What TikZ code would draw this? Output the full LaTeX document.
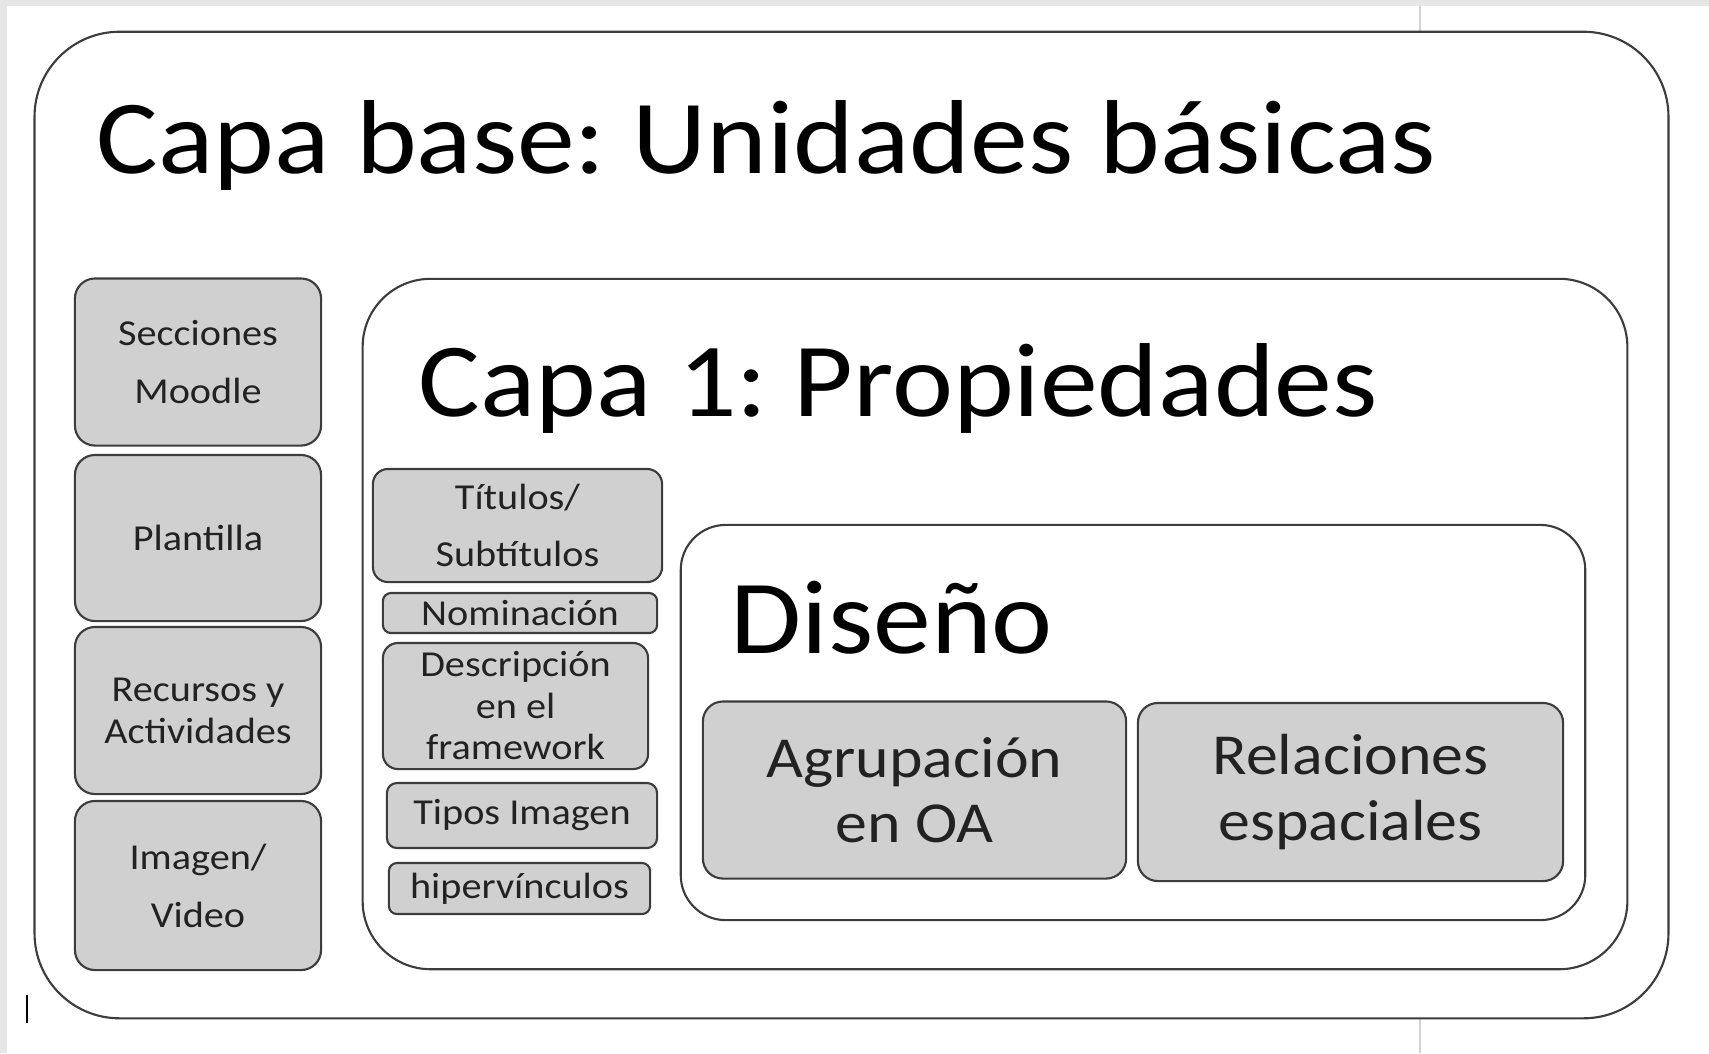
\documentclass[tikz,border=0pt]{standalone}
\usepackage{fontspec}
\setmainfont{Carlito}[FakeStretch=1.1]
\frenchspacing
\definecolor{boxfill}{HTML}{D0D0D0}
\definecolor{boxline}{HTML}{3C3C3C}
\definecolor{boxtext}{HTML}{222222}
\definecolor{pagegray}{HTML}{E6E6E6}
\newcommand{\titlefont}{\fontsize{29.9}{35}\selectfont}
\newcommand{\cellfont}[1]{\fontsize{10.4}{#1}\selectfont}
\newcommand{\bigcellfont}{\fontsize{16.5}{18.5}\selectfont}
\begin{document}
\begin{tikzpicture}
	[
	x=0.01cm, y=-0.01cm,
	layer/.style={draw=boxline, line width=0.6pt, inner sep=0pt},
	cell/.style={draw=boxline, fill=boxfill, line width=0.6pt, text=boxtext, align=center, inner sep=0pt},
	heading/.style={anchor=base west, inner sep=0pt, font=\titlefont}
	]
		\useasboundingbox (0,0) rectangle (1709,1053);
		% screen margins
		\fill [pagegray] (0,0) rectangle (1709,6);
		\fill [pagegray] (0,0) rectangle (7,1053);
		\draw [gray!35, line width=0.4pt] (1420,6) -- (1420,32) (1420,1018) -- (1420,1053);
		\draw [black, line width=0.5pt] (27,995) -- (27,1023);
		
		% capa base
		\node (base) [layer, rounded corners=0.85cm, minimum width=16.33cm, minimum height=9.86cm] at (851.5,525) {};
		\node (basetitle) [heading] at (96,173) {Capa base: Unidades básicas};
		
		\node (secc) [cell, rounded corners=0.2cm, minimum width=2.46cm, minimum height=1.67cm, font=\cellfont{16.5}] at (198,362) {Secciones\\Moodle};
		\node (plant) [cell, rounded corners=0.2cm, minimum width=2.46cm, minimum height=1.66cm, font=\cellfont{16.5}] at (198,538) {Plantilla};
		\node (recur) [cell, rounded corners=0.2cm, minimum width=2.46cm, minimum height=1.67cm, font=\cellfont{12}] at (198,710.5) {Recursos y\\Actividades};
		\node (imag) [cell, rounded corners=0.2cm, minimum width=2.46cm, minimum height=1.69cm, font=\cellfont{16.5}] at (198,885.5) {Imagen/\\Video};
		
		% capa 1
		\node (capa1) [layer, rounded corners=0.68cm, minimum width=12.64cm, minimum height=6.9cm] at (995,624) {};
		\node (capa1title) [heading] at (418,416) {Capa 1: Propiedades};
		
		\node (titul) [cell, rounded corners=0.15cm, minimum width=2.89cm, minimum height=1.13cm, font=\cellfont{16.2}] at (517.5,525.5) {Títulos/\\Subtítulos};
		\node (nomin) [cell, rounded corners=0.08cm, minimum width=2.74cm, minimum height=0.4cm, font=\cellfont{12}] at (520,613) {Nominación};
		\node (descr) [cell, rounded corners=0.15cm, minimum width=2.65cm, minimum height=1.26cm, font=\cellfont{11.8}] at (515.5,706) {Descripción\\en el\\framework};
		\node (tipos) [cell, rounded corners=0.1cm, minimum width=2.7cm, minimum height=0.65cm, font=\cellfont{12}] at (522,815.5) {Tipos Imagen};
		\node (hiper) [cell, rounded corners=0.08cm, minimum width=2.61cm, minimum height=0.51cm, font=\cellfont{12}] at (519.5,888.5) {hipervínculos};
		
		% diseño
		\node (disen) [layer, rounded corners=0.45cm, minimum width=9.04cm, minimum height=3.95cm] at (1133,722.5) {};
		\node (disentitle) [heading] at (730,653) {Diseño};
		
		\node (agrup) [cell, rounded corners=0.2cm, minimum width=4.23cm, minimum height=1.77cm, font=\bigcellfont] at (914.5,790) {Agrupación\\en OA};
		\node (relac) [cell, rounded corners=0.2cm, minimum width=4.25cm, minimum height=1.78cm, font=\bigcellfont] at (1350.5,792) {Relaciones\\espaciales};
	\end{tikzpicture}
\end{document}
